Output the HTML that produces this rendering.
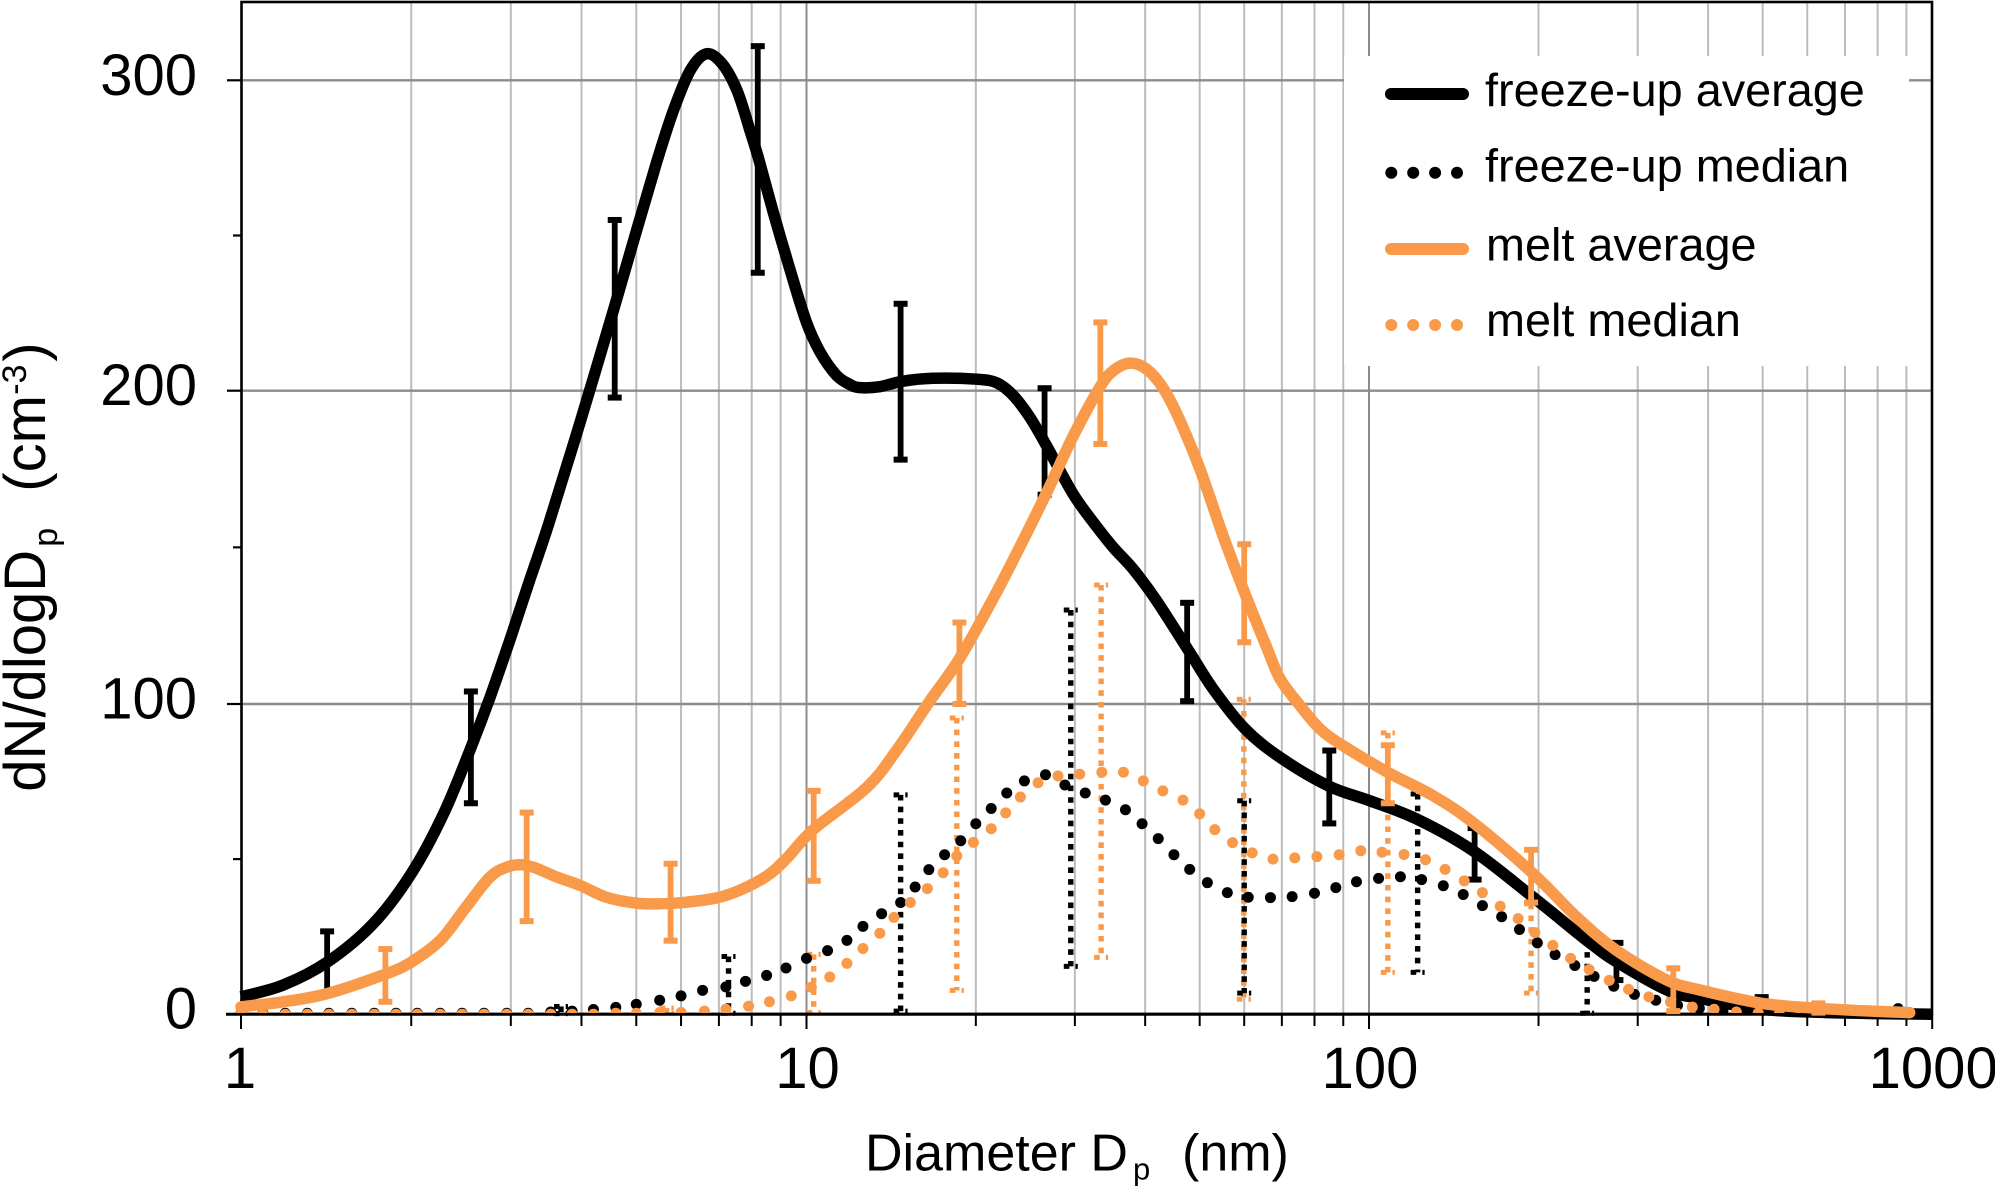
<!DOCTYPE html>
<html lang="en">
<head>
<meta charset="utf-8">
<title>Particle size distribution</title>
<style>
html,body{margin:0;padding:0;background:#fff;}
svg{display:block;font-family:"Liberation Sans",Arial,sans-serif;}
</style>
</head>
<body>
<svg id="chart" xmlns="http://www.w3.org/2000/svg" width="1995" height="1187" viewBox="0 0 1995 1187">
  <defs>
    <clipPath id="dots-clip"><rect x="225" y="0" width="1720" height="1013"/></clipPath>
  </defs>
  <g id="grid"></g>
  <g id="bars-melt-med"></g>
  <g id="bars-freeze-med"></g>
  <g id="bars-freeze-avg"></g>
  <g id="line-freeze-avg"></g>
  <g id="dots-freeze-med" clip-path="url(#dots-clip)"></g>
  <g id="axes"></g>
  <g id="bars-melt-avg"></g>
  <g id="line-melt-avg"></g>
  <g id="dots-melt-med" clip-path="url(#dots-clip)"></g>
  <g id="tick-labels" font-size="58" fill="#000"></g>

  <text y="1170.5" font-size="52" fill="#000"><tspan x="865">Diameter D</tspan><tspan x="1133" dy="9" font-size="31">p</tspan><tspan x="1182" dy="-9">(nm)</tspan></text>
  <text transform="translate(45,791.7) rotate(-90)" font-size="58" fill="#000"><tspan x="0" y="0">dN/dlogD</tspan><tspan x="245" y="12" font-size="34">p</tspan><tspan x="300" y="0">(cm</tspan><tspan x="397" y="-19" font-size="34">-3</tspan><tspan x="430" y="0">)</tspan></text>

  <g id="legend">
    <rect x="1344" y="56" width="565" height="310" fill="#fff"/>
    <g>
      <line x1="1391" y1="94" x2="1463" y2="94" stroke="#000" stroke-width="12" stroke-linecap="round"/>
      <text x="1485" y="106" font-size="46.8" fill="#000">freeze-up average</text>
    </g>
    <g>
      <line x1="1391.3" y1="172.7" x2="1458" y2="172.7" stroke="#000" stroke-width="12" stroke-linecap="round" stroke-dasharray="0 21.9"/>
      <text x="1485" y="181.7" font-size="46.8" fill="#000">freeze-up median</text>
    </g>
    <g>
      <line x1="1391" y1="249" x2="1463" y2="249" stroke="#F99A4A" stroke-width="12" stroke-linecap="round"/>
      <text x="1486" y="260.7" font-size="46.8" fill="#000">melt average</text>
    </g>
    <g>
      <line x1="1391.3" y1="325" x2="1458" y2="325" stroke="#F99A4A" stroke-width="12" stroke-linecap="round" stroke-dasharray="0 21.9"/>
      <text x="1486" y="336" font-size="46.8" fill="#000">melt median</text>
    </g>
  </g>
</svg>
<script>
// ----- data -----
const xTickLabels = [1, 10, 100, 1000];
const xMinorTicks = [2,3,4,5,6,7,8,9,20,30,40,50,60,70,80,90,200,300,400,500,600,700,800,900];
const yTickLabels = [0, 100, 200, 300];
const yMinorTicks = [50, 150, 250];

const freezeAvgD = [1,1.188,1.424,1.714,2,2.28,2.55,2.755,3,3.24,3.5,3.98,4.58,5.01,5.43,5.81,6.22,6.64,7.08,7.53,7.94,8.22,8.74,9.35,10,10.57,11.3,11.95,12.44,13.5,14.76,16.8,20.07,21.8,23.3,24.95,26.7,29.8,32.8,35.1,38.1,41.9,47.8,52.9,60.2,69.5,84.7,100.4,121.6,153,195.7,243.5,275,338,387,498,628,800,1000];
const freezeAvgV = [5.6,9.4,16.9,29.2,45.3,64.5,85.9,102,121.3,139.5,157.5,190,227.3,251.9,273.5,290,303,308.5,305.5,296.9,284,275,257.3,239,222,212.5,205,202,201,201.3,203,204,203.7,202.5,198.5,191.5,182.5,167,156.6,150,143,133,117,104.7,92,82.8,73.6,68.8,62.9,52.7,37.7,23.8,16.9,7.8,5.1,1.6,0.6,0.2,0];

const meltAvgD = [1,1.188,1.424,1.81,2,2.25,2.5,2.755,2.95,3.11,3.29,3.62,3.98,4.43,5,5.5,6.14,6.94,7.63,8.5,9.2,10.28,12.8,14.45,16.5,18.6,20.9,23.3,26.7,29.8,33.2,35.1,37.6,40.2,43,46,50.1,55.1,60.2,65.8,69.5,75.4,81.8,90,108.2,130,153,195.7,233.8,275,338,387,498,628,800,912];
const meltAvgV = [2.4,4,6.7,13.1,16.8,23.8,34.5,44.2,47.4,48.2,47.4,44.2,41.5,37.7,35.8,35.6,36.1,37.5,40,44.5,50,59.5,73.1,85,100.5,113.8,129.8,145.9,167.3,185.5,201,206.4,208.9,207,201,190.9,174.8,153.4,135.2,118,108,99.5,92,86.5,77.9,70.4,61.8,45.3,31.3,20.6,11,7.8,3.5,1.9,0.9,0.5];

const freezeMedD = [1,1.094,1.197,1.31,1.43,1.57,1.72,1.88,2.05,2.25,2.46,2.69,2.95,3.22,3.53,3.85,4.2,4.6,5,5.5,6,6.55,7.2,7.8,8.5,9.2,10,10.9,11.8,12.6,13.6,14.7,15.6,16.5,17.6,18.8,20,21.3,22.7,24.4,26.6,28.8,31.3,34,36.9,39.5,42.2,45,48,51.6,56,61,66.8,73,80,87.3,95,104,113.7,124,135.5,147,159,172,185,199,214,232,251,272,296,323,353,386,425,465,510,555,605,660,720,790,870];
const freezeMedV = [0.3,0.3,0.3,0.3,0.3,0.3,0.3,0.3,0.3,0.3,0.3,0.3,0.3,0.3,0.7,1,1.5,2.2,3.2,4.5,5.9,7.7,8.8,10.6,12.5,14.9,18,20.5,23.8,28.3,32.4,36,41,46.6,51.4,55.9,61.4,66.3,71.3,75.2,77.2,73.9,71.3,69,65.9,61.4,56.6,51.4,46.7,42.4,39.2,37.7,37.6,37.9,39,40.8,42.7,43.8,44.3,43.4,41.4,38.6,35,31.4,27.3,23,19.2,15.7,12.2,9,6.4,4.5,2.9,1.9,1,0.7,0.5,0.4,0.3,0.3,0.3,0.5,1.8];

const meltMedD = [1,1.094,1.197,1.31,1.43,1.57,1.72,1.88,2.05,2.25,2.46,2.69,2.95,3.22,3.53,3.85,4.2,4.6,5,5.5,6,6.6,7.2,7.9,8.6,9.4,10.2,11,11.8,12.6,13.5,14.3,15.3,16.4,17.5,18.5,19.8,21.3,22.6,24,25.8,28,30.6,33.5,36.6,39.7,43,46.7,50,53.2,57.2,62,67.5,73.8,80.8,88.5,96.7,105.5,115.4,126,136.5,147.6,159,171,184,197,212,228,246,267,289,314,343,375,410,449,491,535,585,640,700,765,835,912];
const meltMedV = [0,0,0,0,0,0,0,0,0,0,0,0,0,0,0,0,0,0.3,0.3,0.5,0.6,1,1.6,2.6,4,5.9,8.7,12,16.4,21.2,26.1,31.2,36,40.5,45.6,51,55.4,59.8,64.9,70,74.6,76.8,77.4,78,78,75.2,72,69,64.6,59.5,55.3,52,50,50.4,50.8,51.4,52.7,52.2,51.5,49.8,46.7,43,39.2,34.8,30.8,26.3,22.2,18,14.4,10.9,8,5.6,3.9,2.3,1.6,0.7,0.4,0.1,0.1,0.1,0.1,0.1,0.1,0.1];

const freezeAvgBarD = [1.42,2.55,4.58,8.2,14.7,26.5,47.5,85,154,275,498];
const freezeAvgBarLo = [6.5,68,197.8,238,178,166.8,100.9,61.5,43.4,11,1];
const freezeAvgBarHi = [26.7,104,255,311,228,200.8,132.3,85,60,23,5.5];

const meltAvgBarD = [1.8,3.2,5.75,10.3,18.7,33.3,60,108,194,347,628];
const meltAvgBarLo = [4,30,23.7,43,100,183,119.7,68,36,1,0.5];
const meltAvgBarHi = [21,65,48.5,72,126,222,151,86.7,53,14.8,3.5];

const freezeMedBarD = [3.68,7.28,14.7,29.5,60,122,244];
const freezeMedBarLo = [0.2,0.3,1,15.4,6.8,13.5,0.3];
const freezeMedBarHi = [2.5,18.6,70.7,130,68.8,71,23.8];

const meltMedBarD = [5.66,10.3,18.5,33.4,59.9,108,194,347];
const meltMedBarLo = [0.3,0.5,7.7,18.3,4.8,13.5,6.8,0.5];
const meltMedBarHi = [2,19.3,95.5,138,101.5,90.7,35.6,5.5];

// ----- axis functions -----
const BLACK = '#000';
const ORANGE = '#F99A4A';
function xScale(d) {
  const l = Math.log10(d);
  if (l <= 1) return 241 + l * 565.5;
  if (l <= 2) return 806.5 + (l - 1) * 562.5;
  return 1369 + (l - 2) * 563.2;
}
function yScale(v) {
  if (v <= 100) return 1014.2 - 3.102 * v;
  if (v <= 200) return 704 - 3.133 * (v - 100);
  return 390.7 - 3.104 * (v - 200);
}

const NS = 'http://www.w3.org/2000/svg';
function make(parentId, tag, props) {
  const node = document.createElementNS(NS, tag);
  for (const k in props) node.setAttribute(k, props[k]);
  document.getElementById(parentId).appendChild(node);
  return node;
}

// ----- gridlines -----
xMinorTicks.forEach(function (d) {
  const el = make('grid', 'line', {x1: xScale(d), x2: xScale(d), y1: 2, y2: 1014, stroke: '#bcbcbc', 'stroke-width': 2});
  
  
});
[10, 100].forEach(function (d) {
  const el = make('grid', 'line', {x1: xScale(d), x2: xScale(d), y1: 2, y2: 1014, stroke: '#8c8c8c', 'stroke-width': 2});
  
  
});
yTickLabels.slice(1).forEach(function (v) {
  const el = make('grid', 'line', {x1: 241, x2: 1932, y1: yScale(v), y2: yScale(v), stroke: '#8c8c8c', 'stroke-width': 2.4});
  
  
});

// ----- axes and ticks -----
const frame = make('axes', 'rect', {x: 241.5, y: 2, width: 1690.5, height: 1012, fill: 'none', stroke: '#000', 'stroke-width': 2.6});


const xAxisLine = make('axes', 'line', {x1: 226, x2: 1932, y1: 1014.2, y2: 1014.2, stroke: '#000', 'stroke-width': 3});


xTickLabels.forEach(function (d) {
  const el = make('axes', 'line', {x1: xScale(d), x2: xScale(d), y1: 1014, y2: 1029, stroke: '#000', 'stroke-width': 2});
  
  
});
xMinorTicks.forEach(function (d) {
  const el = make('axes', 'line', {x1: xScale(d), x2: xScale(d), y1: 1014, y2: 1026, stroke: '#000', 'stroke-width': 2});
  
  
});
yTickLabels.forEach(function (v) {
  const el = make('axes', 'line', {x1: 227, x2: 241, y1: yScale(v), y2: yScale(v), stroke: '#000', 'stroke-width': 2.2});
  
  
});
yMinorTicks.forEach(function (v) {
  const el = make('axes', 'line', {x1: 233, x2: 241, y1: yScale(v), y2: yScale(v), stroke: '#000', 'stroke-width': 2.2});
  
  
});

// ----- tick labels -----
xTickLabels.forEach(function (d) {
  const el = make('tick-labels', 'text', {x: xScale(d) + (d === 1 ? -1 : 1), y: 1088, 'text-anchor': 'middle'});
  el.textContent = String(d);
  
  
});
yTickLabels.forEach(function (v) {
  const el = make('tick-labels', 'text', {x: 197, y: yScale(v) + 14.5, 'text-anchor': 'end'});
  el.textContent = String(v);
  
  
});

// ----- series -----
function smoothPath(ds, vs) {
  const p = ds.map(function (d, i) { return [xScale(d), yScale(vs[i])]; });
  let s = 'M' + p[0][0].toFixed(1) + ' ' + p[0][1].toFixed(1);
  for (let i = 0; i < p.length - 1; i++) {
    const a = p[Math.max(i - 1, 0)], b = p[i], c = p[i + 1], e = p[Math.min(i + 2, p.length - 1)];
    const c1x = b[0] + (c[0] - a[0]) / 6, c1y = b[1] + (c[1] - a[1]) / 6;
    const c2x = c[0] - (e[0] - b[0]) / 6, c2y = c[1] - (e[1] - b[1]) / 6;
    s += 'C' + c1x.toFixed(1) + ' ' + c1y.toFixed(1) + ' ' + c2x.toFixed(1) + ' ' + c2y.toFixed(1) + ' ' + c[0].toFixed(1) + ' ' + c[1].toFixed(1);
  }
  return s;
}
const freezeLine = make('line-freeze-avg', 'path', {d: smoothPath(freezeAvgD, freezeAvgV), fill: 'none', stroke: BLACK, 'stroke-width': 11.5, 'stroke-linejoin': 'round'});


const meltLine = make('line-melt-avg', 'path', {d: smoothPath(meltAvgD, meltAvgV), fill: 'none', stroke: ORANGE, 'stroke-width': 11.5, 'stroke-linecap': 'round', 'stroke-linejoin': 'round'});



freezeMedD.forEach(function (d, i) {
  const el = make('dots-freeze-med', 'circle', {cx: xScale(d), cy: yScale(freezeMedV[i]), r: 5.5, fill: BLACK});
  
  
});
meltMedD.forEach(function (d, i) {
  const el = make('dots-melt-med', 'circle', {cx: xScale(d), cy: yScale(meltMedV[i]), r: 5.5, fill: ORANGE});
  
  
});

// ----- error bars -----
function solidBars(target, ds, los, his, color) {
  ds.forEach(function (d, i) {
    const x = xScale(d), yL = yScale(los[i]), yH = yScale(his[i]);
    const stem = make(target, 'line', {x1: x, x2: x, y1: yL, y2: yH, stroke: color, 'stroke-width': 5.8});
    
    
    const capTop = make(target, 'line', {x1: x - 7, x2: x + 7, y1: yH, y2: yH, stroke: color, 'stroke-width': 6});
    
    
    const capBottom = make(target, 'line', {x1: x - 7, x2: x + 7, y1: yL, y2: yL, stroke: color, 'stroke-width': 6});
    
    
  });
}
function dottedBars(target, ds, los, his, color) {
  ds.forEach(function (d, i) {
    const x = xScale(d), yL = yScale(los[i]), yH = yScale(his[i]);
    const stem = make(target, 'line', {x1: x, x2: x, y1: yH, y2: yL, stroke: color, 'stroke-width': 5.4, 'stroke-dasharray': '5.6 6.1'});
    
    
    const capTop = make(target, 'line', {x1: x - 7, x2: x + 7, y1: yH, y2: yH, stroke: color, 'stroke-width': 5, 'stroke-dasharray': '5.6 6.1'});
    
    
    const capBottom = make(target, 'line', {x1: x - 7, x2: x + 7, y1: yL, y2: yL, stroke: color, 'stroke-width': 5, 'stroke-dasharray': '5.6 6.1'});
    
    
  });
}
solidBars('bars-freeze-avg', freezeAvgBarD, freezeAvgBarLo, freezeAvgBarHi, BLACK);
solidBars('bars-melt-avg', meltAvgBarD, meltAvgBarLo, meltAvgBarHi, ORANGE);
dottedBars('bars-freeze-med', freezeMedBarD, freezeMedBarLo, freezeMedBarHi, BLACK);
dottedBars('bars-melt-med', meltMedBarD, meltMedBarLo, meltMedBarHi, ORANGE);
</script>
</body>
</html>
